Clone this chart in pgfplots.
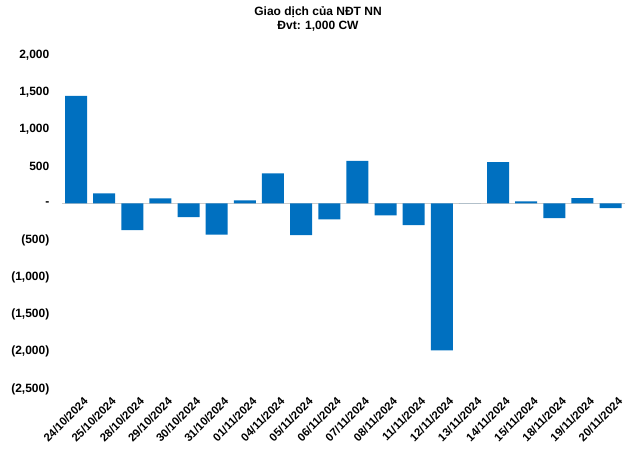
\documentclass[border=0pt]{standalone}
\usepackage{pgfplots}
\pgfplotsset{compat=1.18}
\usepackage{fontspec}
\setmainfont{Liberation Sans}
\definecolor{barblue}{HTML}{0070C0}
\begin{document}
\begin{tikzpicture}
\useasboundingbox (0pt,0pt) rectangle (480pt,338.25pt);
\begin{axis}[
  at={(46.5pt,46.5pt)}, anchor=south west,
  scale only axis,
  width=422pt, height=250.5pt,
  xmin=-0.5, xmax=19.5,
  ymin=-2500, ymax=2000,
  axis line style={draw=none},
  ytick={-2500,-2000,-1500,-1000,-500,0,500,1000,1500,2000},
  yticklabels={{(2,500)},{(2,000)},{(1,500)},{(1,000)},{(500)},{-},{500},{1,000},{1,500},{2,000}},
  xtick={0,...,19},
  xticklabels={24/10/2024,25/10/2024,28/10/2024,29/10/2024,30/10/2024,31/10/2024,01/11/2024,04/11/2024,05/11/2024,06/11/2024,07/11/2024,08/11/2024,11/11/2024,12/11/2024,13/11/2024,14/11/2024,15/11/2024,18/11/2024,19/11/2024,20/11/2024},
  major tick length=0pt,
  xticklabel style={font=\bfseries\fontsize{8.5}{10}\selectfont, rotate=45, anchor=north east, xshift=3pt, yshift=-4pt},
  yticklabel style={font=\bfseries\fontsize{9}{10}\selectfont, xshift=-6pt},
  clip=false,
]
\draw[gray!40, line width=0.8pt] (axis cs:-0.5,0) -- (axis cs:19.5,0);
\addplot[ybar, bar width=16.5pt, fill=barblue, draw=none] coordinates {
(0,1450) (1,135) (2,-360) (3,68) (4,-185) (5,-420) (6,41) (7,405) (8,-428) (9,-216)
(10,572) (11,-162) (12,-293) (13,-1980) (14,0) (15,558) (16,27) (17,-198) (18,72) (19,-63)
};
\node[font=\bfseries\fontsize{9}{11}\selectfont, align=center, anchor=south] at (rel axis cs:0.455,1) [yshift=14pt] {Giao dịch của NĐT NN\\Đvt: 1,000 CW};
\end{axis}
\end{tikzpicture}
\end{document}
